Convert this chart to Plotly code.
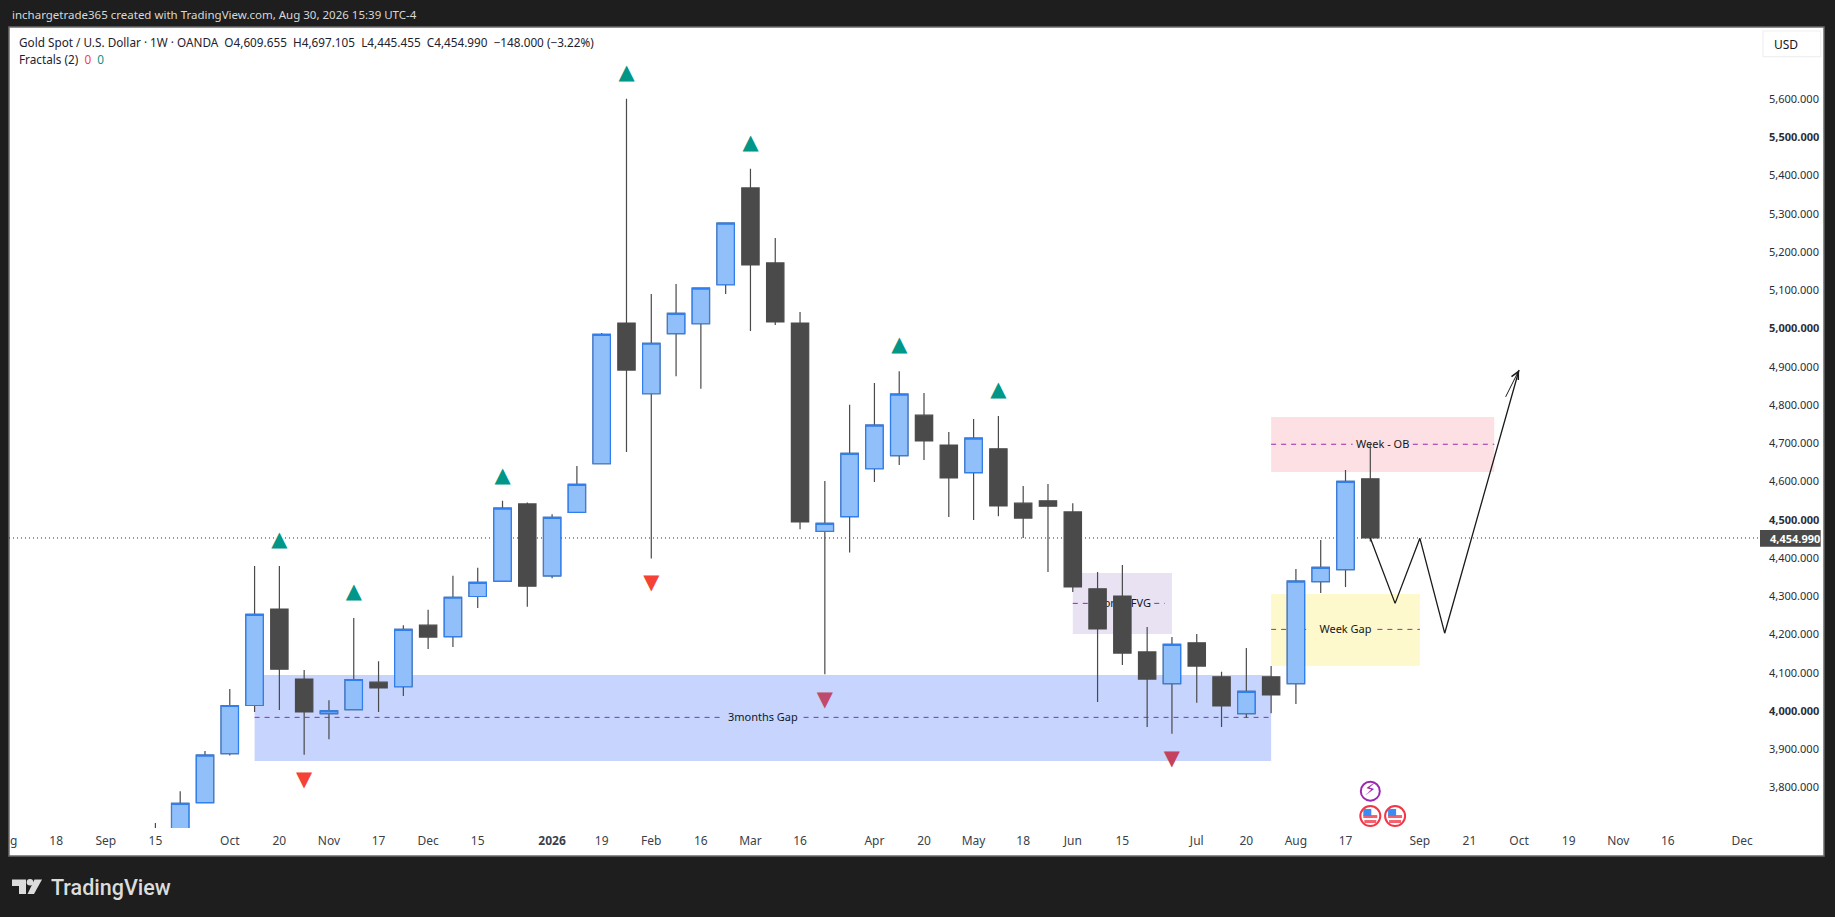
import plotly.graph_objects as go
import pandas as pd

# ---------- data ----------
weeks = [d.strftime("%Y-%m-%d") for d in pd.date_range("2025-09-15", periods=50, freq="7D")]
opens = [3650,3680,3763,3891,4017,4269,4086,3996,4006,4078,4066,4227,4197,4302,4342,4544,4356,4522,4649,5017,
         4832,4989,5015,5117,5370,5174,5017,4472,4511,4636,4670,4776,4698,4626,4688,4546,4552,4523,4322,4303,
         4157,4074,4181,4092,3996,4092,4074,4341,4372,4609.655]
highs = [3710,3793,3898,4060,4382,4382,4110,4031,4246,4133,4227,4267,4356,4377,4552,4548,4517,4643,4991,5603,
         5093,5119,5108,5280,5420,5239,5046,4604,4803,4860,4891,4834,4732,4766,4774,4591,4596,4546,4366,4384,
         4222,4196,4204,4105,4167,4120,4374,4450,4633,4697.105]
lows = [3630,3660,3763,3886,4000,4005,3888,3929,4006,4000,4042,4165,4170,4272,4342,4275,4350,4522,4649,4680,
        4401,4878,4845,5093,4996,5012,4478,4099,4417,4601,4646,4659,4510,4502,4512,4455,4366,4314,4026,4123,
        3961,3943,4024,3961,3985,3997,4021,4311,4327,4445.455]
closes = [3690,3761,3887,4017,4255,4112,4000,4003,4085,4063,4216,4196,4300,4339,4533,4329,4509,4595,4987,4894,
          4964,5042,5108,5278,5169,5020,4497,4493,4676,4750,4831,4709,4612,4716,4539,4507,4538,4327,4217,4154,
          4086,4177,4120,4016,4054,4045,4342,4378,4603,4454.99]

fractal_up_idx = [5, 8, 14, 19, 24, 30, 34]
fractal_up_val = [4448, 4312, 4616, 5669, 5486, 4958, 4841]
fractal_dn_idx = [6, 20, 27, 41]
fractal_dn_val = [3821, 4336, 4030, 3876]
fractal_dn_col = ["#f44336", "#f44336", "#bf4a6c", "#c4425f"]

zone_names = ["3months Gap", "Month FVG", "Week - OB", "Week Gap"]
zone_start = ["2025-10-13", "2026-06-01", "2026-07-27", "2026-07-27"]
zone_end = ["2026-07-27", "2026-06-29", "2026-09-28", "2026-09-07"]
zone_low = [3872, 4204, 4627.6, 4121]
zone_high = [4097, 4363.5, 4771.4, 4308.6]
zone_mid = [3986, 4284, 4700, 4216]
zone_line_end = ["2026-07-27", "2026-06-27", "2026-09-28", "2026-09-07"]
zone_gap_start = ["2026-02-22", "2026-06-07", "2026-08-19", "2026-08-07"]
zone_gap_end = ["2026-03-17", "2026-06-24", "2026-09-05", "2026-08-26"]
zone_colors = ["#c6d4fe", "#e8e2f3", "#fde0e4", "#fef9cc"]

path_dates = ["2026-08-24", "2026-08-31", "2026-09-07", "2026-09-14", "2026-10-05"]
path_vals = [4454.99, 4284, 4454, 4206, 4894]

x_tick_dates = ["2025-08-06", "2025-08-18", "2025-09-01", "2025-09-15", "2025-10-06", "2025-10-20", "2025-11-03",
                "2025-11-17", "2025-12-01", "2025-12-15", "2026-01-05", "2026-01-19", "2026-02-02", "2026-02-16",
                "2026-03-02", "2026-03-16", "2026-04-06", "2026-04-20", "2026-05-04", "2026-05-18", "2026-06-01",
                "2026-06-15", "2026-07-06", "2026-07-20", "2026-08-03", "2026-08-17", "2026-09-07", "2026-09-21",
                "2026-10-05", "2026-10-19", "2026-11-02", "2026-11-16", "2026-12-07"]
x_tick_text = ["g", "18", "Sep", "15", "Oct", "20", "Nov", "17", "Dec", "15", "<b>2026</b>", "19", "Feb", "16",
               "Mar", "16", "Apr", "20", "May", "18", "Jun", "15", "Jul", "20", "Aug", "17", "Sep", "21",
               "Oct", "19", "Nov", "16", "Dec"]
y_tick_vals = [3800, 3900, 4000, 4100, 4200, 4300, 4400, 4500, 4600, 4700, 4800, 4900, 5000, 5100, 5200, 5300, 5400, 5500, 5600]
y_tick_text = ["3,800.000", "3,900.000", "<b>4,000.000</b>", "4,100.000", "4,200.000", "4,300.000", "4,400.000",
               "<b>4,500.000</b>", "4,600.000", "4,700.000", "4,800.000", "4,900.000", "<b>5,000.000</b>", "5,100.000",
               "5,200.000", "5,300.000", "5,400.000", "<b>5,500.000</b>", "5,600.000"]
last_price = 4454.99
event_power_date = ["2026-08-24"]
event_flag_dates = ["2026-08-24", "2026-08-31"]
event_power_val = 3793
event_flag_val = 3728

# ---------- layout helpers ----------
W, H = 1835, 917
PL, PR, PT, PB = 9, 1760, 27, 828
FONT = "Noto Sans"
DARK = "#1e1e1e"
CANDLE = "#4a4a4a"

def px(x):
    return (x - PL) / (PR - PL)

def py(y):
    return 1 - (y - PT) / (PB - PT)

def date_at(i):
    return (pd.Timestamp("2025-09-15") + pd.Timedelta(days=7 * i)).strftime("%Y-%m-%d %H:%M")

x_range = [date_at((PL - 155.4) / 24.794), date_at((PR - 155.4) / 24.794)]
y_range = [5000 - (PB - 329.5) / 0.3825, 5000 + (329.5 - PT) / 0.3825]

fig = go.Figure()
# all candles: wicks and dark bodies
fig.add_trace(go.Candlestick(
    x=weeks, open=opens, high=highs, low=lows, close=closes,
    increasing=dict(line=dict(color=CANDLE, width=1.2), fillcolor=CANDLE),
    decreasing=dict(line=dict(color=CANDLE, width=1.2), fillcolor=CANDLE),
    hoverinfo="skip"))
# up candles: blue body on top
bull = [i for i in range(len(weeks)) if closes[i] >= opens[i]]
fig.add_trace(go.Candlestick(
    x=[weeks[i] for i in bull], open=[opens[i] for i in bull], close=[closes[i] for i in bull],
    high=[closes[i] for i in bull], low=[opens[i] for i in bull],
    increasing=dict(line=dict(color="#2f7ff0", width=1.2), fillcolor="#90bff9"),
    decreasing=dict(line=dict(color="#2f7ff0", width=1.2), fillcolor="#90bff9"),
    hoverinfo="skip"))
# fractals
fig.add_trace(go.Scatter(x=[weeks[i] for i in fractal_up_idx], y=fractal_up_val, mode="text",
                         text=["▲"] * len(fractal_up_idx), textposition="middle center",
                         textfont=dict(family="DejaVu Sans", size=21, color="#009688"), hoverinfo="skip"))
fig.add_trace(go.Scatter(x=[weeks[i] for i in fractal_dn_idx], y=fractal_dn_val, mode="text",
                         text=["▼"] * len(fractal_dn_idx), textposition="middle center",
                         textfont=dict(family="DejaVu Sans", size=21, color=fractal_dn_col), hoverinfo="skip"))
# hand-drawn path
fig.add_trace(go.Scatter(x=path_dates, y=path_vals, mode="lines", line=dict(color="#1a1a1a", width=1.3), hoverinfo="skip"))
# event icons
fig.add_trace(go.Scatter(x=event_power_date, y=[event_power_val], mode="markers+text", text=["⚡"],
                         textposition="middle center", textfont=dict(family="DejaVu Sans", size=17, color="#9c27b0"),
                         marker=dict(size=19, color="white", line=dict(color="#9c27b0", width=2)), hoverinfo="skip"))
fig.add_trace(go.Scatter(x=event_flag_dates, y=[event_flag_val] * 2, mode="markers",
                         marker=dict(size=20, color="white", line=dict(color="#f23645", width=2)), hoverinfo="skip"))

shapes = []
# white pane
shapes.append(dict(type="rect", xref="paper", yref="paper", x0=px(9), x1=px(1824), y0=py(856), y1=py(27),
                   fillcolor="white", line=dict(color="#6b6b6b", width=1.5), layer="below"))
# zones with labels
for n, s, e, lo, hi, c in zip(zone_names, zone_start, zone_end, zone_low, zone_high, zone_colors):
    shapes.append(dict(type="rect", xref="x", yref="y", x0=s, x1=e, y0=lo, y1=hi, fillcolor=c,
                       line=dict(width=0), layer="below",
                       label=dict(text=n, textposition="middle center",
                                  font=dict(family=FONT, size=11, color="#131722"))))
for s, e, m, g0, g1 in zip(zone_start, zone_line_end, zone_mid, zone_gap_start, zone_gap_end):
    for a, b in ((s, g0), (g1, e)):
        shapes.append(dict(type="line", xref="x", yref="y", x0=a, x1=b, y0=m, y1=m, layer="below",
                           line=dict(color="#9c27b0", width=1, dash="5px,5px")))
# last price dotted line
shapes.append(dict(type="line", xref="paper", yref="y", x0=0, x1=1, y0=last_price, y1=last_price, layer="below",
                   line=dict(color="#333333", width=1, dash="1px,3px")))
# last price tag
shapes.append(dict(type="rect", xref="paper", yref="paper", x0=px(1760), x1=px(1820.7), y0=py(546.7), y1=py(530),
                   fillcolor=CANDLE, line=dict(width=0), layer="above"))
# USD box
shapes.append(dict(type="rect", xref="paper", yref="paper", x0=px(1763), x1=px(1820.7), y0=py(56.7), y1=py(31),
                   fillcolor="white", line=dict(color="#f0f0f0", width=1.2), layer="above"))
# TradingView logo
logo_col = "#dcdcdc"
def P(points):
    return "M" + " L".join(f"{px(x):.5f},{py(y):.5f}" for x, y in points) + " Z"
shapes.append(dict(type="path", xref="paper", yref="paper",
                   path=P([(12, 879.5), (26, 879.5), (26, 894), (19, 894), (19, 886), (12, 886)]),
                   fillcolor=logo_col, line=dict(width=0), layer="above"))
shapes.append(dict(type="path", xref="paper", yref="paper",
                   path=P([(34.5, 879.5), (42, 879.5), (34, 894), (27.5, 894)]),
                   fillcolor=logo_col, line=dict(width=0), layer="above"))
shapes.append(dict(type="circle", xref="paper", yref="paper", x0=px(26.7), x1=px(33.3), y0=py(885.6), y1=py(879),
                   fillcolor=logo_col, line=dict(width=0), layer="above"))
# flag details on the event icons
for d in event_flag_dates:
    base = dict(type="rect", xref="x", yref="y", xsizemode="pixel", ysizemode="pixel", xanchor=d, yanchor=event_flag_val,
                line=dict(width=0), layer="above")
    shapes.append({**base, "x0": -7, "x1": 7, "y0": -2, "y1": 1, "fillcolor": "#f4606c"})
    shapes.append({**base, "x0": -6, "x1": 6, "y0": -7, "y1": -4, "fillcolor": "#f4606c"})
    shapes.append({**base, "x0": -7, "x1": 1, "y0": 0, "y1": 7, "fillcolor": "#3d8bf0"})

annotations = [
    dict(text="inchargetrade365 created with TradingView.com, Aug 30, 2026 15:39 UTC-4", xref="paper", yref="paper",
         x=px(10), y=py(15), xanchor="left", yanchor="middle", showarrow=False,
         font=dict(family=FONT, size=11.5, color="#d8d8d8")),
    dict(text="Gold Spot / U.S. Dollar · 1W · OANDA  O4,609.655  H4,697.105  L4,445.455  C4,454.990  −148.000 (−3.22%)",
         xref="paper", yref="paper", x=px(17), y=py(42), xanchor="left", yanchor="middle", showarrow=False,
         font=dict(family=FONT, size=11.75, color="#1e222d")),
    dict(text='Fractals (2)  <span style="color:#f44336">0</span>  <span style="color:#009688">0</span>',
         xref="paper", yref="paper", x=px(17), y=py(59), xanchor="left", yanchor="middle", showarrow=False,
         font=dict(family=FONT, size=11.75, color="#1e222d")),
    dict(text="USD", xref="paper", yref="paper", x=px(1772), y=py(44), xanchor="left", yanchor="middle", showarrow=False,
         font=dict(family=FONT, size=12, color="#131722")),
    dict(text="<b>4,454.990</b>", xref="paper", yref="paper", x=px(1768), y=py(538.3), xanchor="left", yanchor="middle",
         showarrow=False, font=dict(family=FONT, size=11, color="white")),
    dict(text="TradingView", xref="paper", yref="paper", x=px(49), y=py(887), xanchor="left", yanchor="middle",
         showarrow=False, font=dict(family="Roboto", size=21.5, weight=500, color=logo_col)),
    # arrow head of the hand-drawn path
    dict(x=path_dates[-1], y=path_vals[-1], ax="2026-10-01", ay=4820, xref="x", yref="y", axref="x", ayref="y",
         text="", showarrow=True, arrowhead=5, arrowsize=1.5, arrowwidth=1, arrowcolor="#1a1a1a"),
]

fig.update_layout(
    width=W, height=H, autosize=False,
    margin=dict(l=PL, r=W - PR, t=PT, b=H - PB, autoexpand=False),
    paper_bgcolor=DARK, plot_bgcolor="white", showlegend=False, boxmode="overlay", boxgap=0,
    shapes=shapes, annotations=annotations,
    xaxis=dict(type="date", range=x_range, rangeslider=dict(visible=False), showgrid=False, zeroline=False,
               showline=False, tickmode="array", tickvals=x_tick_dates, ticktext=x_tick_text, ticks="",
               tickangle=0, tickfont=dict(family=FONT, size=12, color="#3a3f4b"), ticklabelstandoff=4),
    yaxis=dict(range=y_range, side="right", showgrid=False, zeroline=False, showline=False, tickmode="array",
               tickvals=y_tick_vals, ticktext=y_tick_text, ticks="", ticklabelstandoff=8, ticklabelshift=-1,
               tickfont=dict(family=FONT, size=11, color="#2a2e39")),
)

fig.write_html("out.html", config=dict(displayModeBar=False),
               post_script="document.body.style.margin='0';document.body.style.background='#1e1e1e';")
